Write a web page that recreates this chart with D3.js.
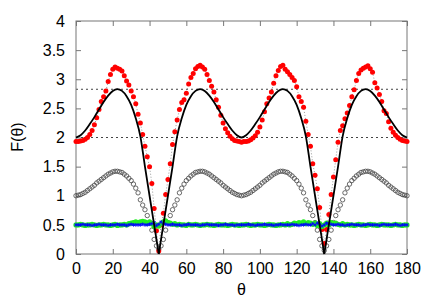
<!DOCTYPE html>
<html>
<head>
<meta charset="utf-8">
<script src="https://cdn.jsdelivr.net/npm/d3@7"></script>
<style>
  html, body { margin: 0; padding: 0; background: #fff; }
  svg { display: block; font-family: "Liberation Sans", Arial, sans-serif; }
</style>
</head>
<body>
<svg width="436" height="305"></svg>
<script>
var vWidth = 436;
var vHeight = 305;

// sampled angles (deg) for the point series
var theta = [0,1.25,2.5,3.75,5,6.25,7.5,8.75,10,11.25,12.5,13.75,15,16.25,17.5,18.75,20,21.25,22.5,23.75,25,26.25,27.5,28.75,30,31.25,32.5,33.75,35,36.25,37.5,38.75,40,41.25,42.5,43.75,45,
  46.25,47.5,48.75,50,51.25,52.5,53.75,55,56.25,57.5,58.75,60,61.25,62.5,63.75,65,66.25,67.5,68.75,70,71.25,72.5,73.75,75,76.25,77.5,78.75,80,81.25,82.5,83.75,85,86.25,87.5,88.75,90,
  91.25,92.5,93.75,95,96.25,97.5,98.75,100,101.25,102.5,103.75,105,106.25,107.5,108.75,110,111.25,112.5,113.75,115,116.25,117.5,118.75,120,121.25,122.5,123.75,125,126.25,127.5,128.75,130,131.25,132.5,133.75,135,
  136.25,137.5,138.75,140,141.25,142.5,143.75,145,146.25,147.5,148.75,150,151.25,152.5,153.75,155,156.25,157.5,158.75,160,161.25,162.5,163.75,165,166.25,167.5,168.75,170,171.25,172.5,173.75,175,176.25,177.5,178.75,180];

// red filled dots
var redF = [1.93,1.93,1.94,1.95,1.97,2.00,2.05,2.12,2.22,2.34,2.48,2.62,2.70,2.80,2.96,3.08,3.17,3.21,3.19,3.17,3.14,3.06,2.97,2.90,2.80,2.70,2.58,2.40,2.25,2.05,1.85,1.67,1.50,1.21,0.78,0.40,0.05,
  0.50,0.70,1.02,1.28,1.55,1.88,2.10,2.30,2.48,2.60,2.65,2.76,2.92,3.03,3.10,3.18,3.22,3.24,3.21,3.17,3.08,2.98,2.88,2.78,2.65,2.52,2.38,2.25,2.15,2.08,2.02,1.98,1.95,1.94,1.93,1.92,
  1.93,1.93,1.94,1.96,1.99,2.03,2.09,2.18,2.30,2.44,2.58,2.68,2.78,2.93,3.06,3.15,3.22,3.24,3.17,3.13,3.08,3.03,2.98,2.87,2.70,2.62,2.52,2.28,2.05,1.85,1.55,1.35,1.12,0.80,0.42,0.18,
  0.42,0.68,1.02,1.32,1.62,1.92,2.12,2.20,2.32,2.42,2.55,2.70,2.82,2.98,3.10,3.16,3.19,3.21,3.23,3.18,3.12,2.94,2.85,2.74,2.62,2.46,2.41,2.27,2.16,2.09,2.04,2.00,1.97,1.95,1.94,1.93];

// open circles
var openF = [1.00,1.01,1.02,1.04,1.06,1.09,1.12,1.15,1.18,1.22,1.25,1.28,1.31,1.34,1.37,1.39,1.41,1.42,1.42,1.41,1.40,1.37,1.34,1.30,1.26,1.20,1.13,1.05,0.93,0.84,0.76,0.66,0.54,0.41,0.25,0.14,0.08,
  0.14,0.25,0.41,0.54,0.66,0.76,0.84,0.93,1.05,1.13,1.20,1.26,1.30,1.34,1.37,1.40,1.41,1.42,1.42,1.41,1.39,1.37,1.34,1.31,1.28,1.25,1.22,1.18,1.15,1.12,1.09,1.06,1.04,1.02,1.01,1.00,
  1.01,1.02,1.04,1.06,1.09,1.12,1.15,1.18,1.22,1.25,1.28,1.31,1.34,1.37,1.39,1.41,1.42,1.42,1.41,1.40,1.37,1.34,1.30,1.26,1.20,1.13,1.05,0.93,0.84,0.76,0.66,0.54,0.41,0.25,0.14,0.06,
  0.14,0.25,0.41,0.54,0.66,0.76,0.84,0.93,1.05,1.13,1.20,1.26,1.30,1.34,1.37,1.40,1.41,1.42,1.42,1.41,1.39,1.37,1.34,1.31,1.28,1.25,1.22,1.18,1.15,1.12,1.09,1.06,1.04,1.02,1.01,1.00];

// green dots
var greenF = [0.50,0.50,0.51,0.50,0.49,0.50,0.50,0.51,0.50,0.49,0.50,0.50,0.51,0.50,0.50,0.49,0.50,0.51,0.49,0.50,0.50,0.51,0.50,0.52,0.53,0.54,0.55,0.54,0.55,0.56,0.55,0.53,0.55,0.52,0.47,0.50,0.48,
  0.52,0.55,0.57,0.54,0.53,0.51,0.52,0.50,0.51,0.50,0.50,0.49,0.51,0.50,0.50,0.51,0.50,0.49,0.50,0.50,0.51,0.50,0.50,0.49,0.50,0.51,0.50,0.50,0.50,0.49,0.50,0.51,0.50,0.50,0.49,0.50,
  0.50,0.51,0.50,0.49,0.50,0.50,0.51,0.50,0.50,0.49,0.50,0.51,0.50,0.50,0.49,0.50,0.50,0.51,0.50,0.52,0.50,0.51,0.53,0.52,0.54,0.53,0.55,0.52,0.54,0.53,0.51,0.53,0.49,0.52,0.47,0.50,
  0.53,0.50,0.54,0.52,0.53,0.51,0.50,0.52,0.50,0.51,0.50,0.50,0.49,0.50,0.51,0.50,0.50,0.49,0.50,0.51,0.50,0.50,0.49,0.50,0.51,0.50,0.50,0.50,0.49,0.50,0.51,0.50,0.50,0.49,0.50,0.50];

// blue stars
var blueF = [0.50,0.50,0.50,0.51,0.50,0.50,0.50,0.49,0.50,0.50,0.51,0.50,0.50,0.50,0.49,0.50,0.50,0.50,0.51,0.50,0.50,0.50,0.49,0.50,0.51,0.50,0.50,0.50,0.50,0.51,0.50,0.50,0.51,0.52,0.54,0.49,0.51,
  0.55,0.52,0.51,0.50,0.50,0.51,0.50,0.50,0.50,0.49,0.50,0.50,0.51,0.50,0.50,0.50,0.50,0.49,0.50,0.50,0.51,0.50,0.50,0.50,0.50,0.49,0.50,0.50,0.51,0.50,0.50,0.50,0.49,0.50,0.50,0.50,
  0.50,0.50,0.51,0.50,0.50,0.49,0.50,0.50,0.50,0.51,0.50,0.50,0.50,0.49,0.50,0.50,0.51,0.50,0.50,0.50,0.50,0.51,0.50,0.50,0.49,0.50,0.50,0.51,0.50,0.50,0.52,0.50,0.53,0.51,0.48,0.50,
  0.53,0.52,0.51,0.50,0.50,0.51,0.50,0.50,0.49,0.50,0.50,0.51,0.50,0.50,0.50,0.49,0.50,0.50,0.51,0.50,0.50,0.50,0.50,0.49,0.50,0.51,0.50,0.50,0.50,0.50,0.51,0.50,0.49,0.50,0.50,0.50];

// solid black curve
var curveTheta = [0,2.5,5,7.5,10,12.5,15,17.5,20,22.5,25,27.5,30,32.5,35,37.5,40,42.5,45,
  47.5,50,52.5,55,57.5,60,62.5,65,67.5,70,72.5,75,77.5,80,82.5,85,87.5,90,
  92.5,95,97.5,100,102.5,105,107.5,110,112.5,115,117.5,120,122.5,125,127.5,130,132.5,135,
  137.5,140,142.5,145,147.5,150,152.5,155,157.5,160,162.5,165,167.5,170,172.5,175,177.5,180];
var curveF = [2.00,2.04,2.12,2.23,2.35,2.48,2.61,2.72,2.80,2.83,2.80,2.71,2.56,2.33,2.02,1.50,1.00,0.50,0.00,
  0.50,1.00,1.50,2.02,2.33,2.56,2.71,2.80,2.83,2.80,2.72,2.61,2.48,2.35,2.23,2.12,2.04,2.00,
  2.04,2.12,2.23,2.35,2.48,2.61,2.72,2.80,2.83,2.80,2.71,2.56,2.33,2.02,1.50,1.00,0.50,0.00,
  0.50,1.00,1.50,2.02,2.33,2.56,2.71,2.80,2.83,2.80,2.72,2.61,2.48,2.35,2.23,2.12,2.04,2.00];

// dotted reference levels: 2 and 2*sqrt(2)
var refLevels = [2, 2.828];

var xTicks = [0,20,40,60,80,100,120,140,160,180];
var yTicks = [0,0.5,1,1.5,2,2.5,3,3.5,4];

var pLeft = 76, pRight = 407, pTop = 21, pBottom = 254;

var x = d3.scaleLinear().domain([0, 180]).range([pLeft, pRight]);
var y = d3.scaleLinear().domain([0, 4]).range([pBottom, pTop]);

var svg = d3.select('svg')
    .attr('width', vWidth)
    .attr('height', vHeight);

var axisColor = '#777';
var plain = function (d) { return String(d); };

// reference dotted lines
svg.selectAll('line.ref')
    .data(refLevels)
    .enter()
    .append('line')
    .attr('class', 'ref')
    .attr('x1', pLeft).attr('x2', pRight)
    .attr('y1', function (d) { return y(d); })
    .attr('y2', function (d) { return y(d); })
    .style('stroke', '#444')
    .style('stroke-width', 1)
    .style('stroke-dasharray', '2,3');

// axes with inward ticks, mirrored on top/right
function styleAxis(g) {
  g.select('.domain').remove();
  g.selectAll('.tick line').style('stroke', axisColor);
  g.selectAll('.tick text')
    .style('font-family', '"Liberation Sans", Arial, sans-serif')
    .style('font-size', '16px')
    .style('fill', '#000');
}

svg.append('g')
    .attr('transform', 'translate(0,' + pBottom + ')')
    .call(d3.axisBottom(x).tickValues(xTicks).tickFormat(plain).tickSize(-5).tickSizeOuter(0).tickPadding(9))
    .call(styleAxis);
svg.append('g')
    .attr('transform', 'translate(0,' + pTop + ')')
    .call(d3.axisTop(x).tickValues(xTicks).tickSize(-5).tickSizeOuter(0).tickFormat(''))
    .call(styleAxis);
svg.append('g')
    .attr('transform', 'translate(' + pLeft + ',0)')
    .call(d3.axisLeft(y).tickValues(yTicks).tickFormat(plain).tickSize(-5).tickSizeOuter(0).tickPadding(11))
    .call(styleAxis);
svg.append('g')
    .attr('transform', 'translate(' + pRight + ',0)')
    .call(d3.axisRight(y).tickValues(yTicks).tickSize(-5).tickSizeOuter(0).tickFormat(''))
    .call(styleAxis);

svg.append('rect')
    .attr('x', pLeft).attr('y', pTop)
    .attr('width', pRight - pLeft).attr('height', pBottom - pTop)
    .style('fill', 'none')
    .style('stroke', axisColor)
    .style('stroke-width', 1);

var pts = theta.map(function (t, i) {
  return { t: t, red: redF[i], open: openF[i], green: greenF[i], blue: blueF[i] };
});

// open circles
svg.append('g').selectAll('circle')
    .data(pts)
    .enter()
    .append('circle')
    .attr('cx', function (d) { return x(d.t); })
    .attr('cy', function (d) { return y(d.open); })
    .attr('r', 2.2)
    .style('fill', 'none')
    .style('stroke', '#444')
    .style('stroke-width', 0.8);

// thin dotted line along the red series
svg.append('path')
    .datum(pts)
    .attr('d', d3.line()
        .x(function (d) { return x(d.t); })
        .y(function (d) { return y(d.red); }))
    .style('fill', 'none')
    .style('stroke', '#999')
    .style('stroke-width', 1)
    .style('stroke-dasharray', '1,2');

svg.append('g').selectAll('circle')
    .data(pts)
    .enter()
    .append('circle')
    .attr('cx', function (d) { return x(d.t); })
    .attr('cy', function (d) { return y(d.red); })
    .attr('r', 2.5)
    .style('fill', '#ff0000');

svg.append('g').selectAll('circle')
    .data(pts)
    .enter()
    .append('circle')
    .attr('cx', function (d) { return x(d.t); })
    .attr('cy', function (d) { return y(d.green); })
    .attr('r', 2.6)
    .style('fill', '#22ee22');

svg.append('g').selectAll('path')
    .data(pts)
    .enter()
    .append('path')
    .attr('transform', function (d) { return 'translate(' + x(d.t) + ',' + y(d.blue) + ')'; })
    .attr('d', d3.symbol().type(d3.symbolAsterisk).size(9))
    .style('fill', 'none')
    .style('stroke', '#0000ff')
    .style('stroke-width', 0.9);

// black curve, split at the zeros so the dips stay sharp
var pieces = [[]];
curveTheta.forEach(function (t, i) {
  var p = { t: t, f: curveF[i] };
  pieces[pieces.length - 1].push(p);
  if (curveF[i] === 0 && i > 0 && i < curveTheta.length - 1) pieces.push([p]);
});
var blackLine = d3.line()
    .x(function (d) { return x(d.t); })
    .y(function (d) { return y(d.f); })
    .curve(d3.curveMonotoneX);
svg.append('g').selectAll('path')
    .data(pieces)
    .enter()
    .append('path')
    .attr('d', blackLine)
    .style('fill', 'none')
    .style('stroke', '#000')
    .style('stroke-width', 1.8);

// axis titles
svg.append('text')
    .attr('transform', 'translate(23,137) rotate(-90)')
    .attr('text-anchor', 'middle')
    .style('font-size', '16px')
    .text('F(θ)');
svg.append('text')
    .attr('x', (pLeft + pRight) / 2)
    .attr('y', 295)
    .attr('text-anchor', 'middle')
    .style('font-size', '16px')
    .text('θ');
</script>
</body>
</html>
